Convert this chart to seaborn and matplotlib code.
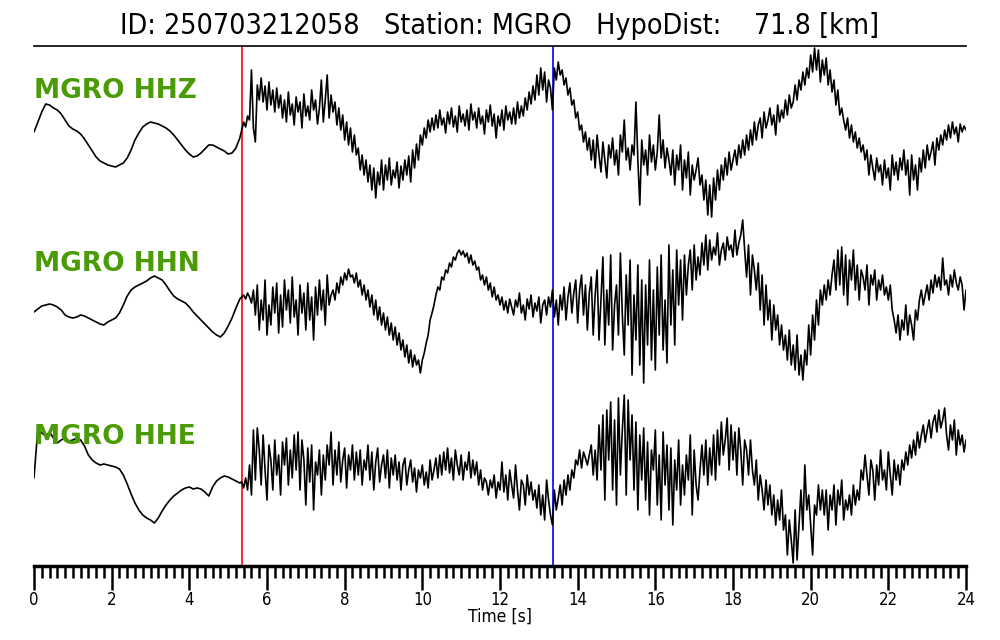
import numpy as np
import pandas as pd
import matplotlib
matplotlib.use("Agg")
import matplotlib.pyplot as plt
from matplotlib.ticker import MultipleLocator
import seaborn as sns

# ---------------- data ----------------
title_text = "ID: 250703212058   Station: MGRO   HypoDist:    71.8 [km]"
channels = ["MGRO HHZ", "MGRO HHN", "MGRO HHE"]
p_pick = 5.35    # red line [s]
s_pick = 13.37   # blue line [s]
pre_dt = 0.1     # sample step of the quiet part (t = 0 .. 5.3 s)
post_dt = 0.05   # sample step of the signal part (t = 5.35 .. 24 s)
post_t0 = 5.35

# amplitudes (arbitrary units, positive up)
hhz_pre = [-2, 8, 18, 26, 25, 22, 20, 16, 10, 4, 1, -1, -4, -9, -15, -21, -27, -31, -33, -35,
           -36, -37, -35, -33, -28, -20, -10, -3, 3, 6, 8, 7, 6, 4, 2, -1, -5, -10, -15, -20,
           -24, -27, -26, -23, -19, -15, -15, -17, -19, -21, -24, -23, -18, -8]
hhz_post = [
    0, 8, 3, 14, 10, 60, 2, -12, 45, 30, 52, 28, 44, 20, 48, 25, 40, 18, 42, 22,
    35, 12, 30, 8, 38, 15, 26, 5, 33, 18, 28, 2, 36, 14, 24, 10, 40, 20, 30, 6,
    22, 50, 8, 30, 55, 12, 35, 18, 28, 5, 22, 0, 15, -10, 8, -15, 2, -22, -5, -25,
    -18, -40, -25, -45, -30, -52, -35, -60, -38, -68, -42, -55, -30, -60, -35, -50, -28, -55, -40, -48,
    -32, -58, -36, -50, -30, -45, -26, -52, -20, -38, -14, -30, -5, -15, 2, -8, 10, -2, 12, 0,
    15, 2, 20, 5, 12, -3, 18, 6, 22, 3, 14, -2, 24, 8, 16, 4, 20, 0, 26, 10,
    18, 2, 22, 6, 14, -4, 20, 8, 25, 4, 16, -8, 14, 4, 20, 0, 24, 10, 18, 6,
    22, 6, 28, 12, 24, 14, 32, 20, 38, 26, 44, 30, 55, 35, 62, 40, 58, 28, 50, 42,
    20, 62, 50, 68, 55, 60, 45, 52, 35, 42, 25, 30, 12, 18, 0, 5, -12, -2, -20, -8,
    -30, -10, -38, -5, -25, -42, -12, -30, -48, -15, -28, -8, -35, -20, -45, -5, -22, 10, -30, -18,
    -40, -15, -25, 28, -30, -75, -10, -35, -20, -45, -5, -32, -15, -40, -22, 15, -28, -10, -38, -18,
    -30, -45, -20, -55, -25, -40, -15, -60, -30, -48, -22, -65, -35, -50, -40, -28, -55, -45, -70, -50,
    -85, -55, -87, -48, -70, -40, -60, -35, -50, -28, -45, -22, -40, -30, -20, -35, -15, -28, -10, -25,
    -5, -20, 0, -15, 8, -10, 5, 12, -8, 18, 2, 10, 22, 5, 15, -5, 25, 8, 20, 12,
    30, 15, 35, 22, 28, 45, 30, 50, 40, 58, 45, 62, 52, 75, 58, 82, 60, 80, 48, 70,
    55, 72, 45, 60, 38, 50, 25, 40, 15, 22, 10, 0, 12, -8, 5, -12, -2, -18, -8, -22,
    -15, -30, -20, -45, -25, -38, -50, -28, -42, -35, -55, -30, -48, -38, -60, -25, -45, -32, -50, -28,
    -40, -20, -45, -30, -65, -25, -50, -35, -60, -28, -42, -20, -38, -15, -30, -22, -12, -35, -8, -20,
    -5, -15, 0, -10, 5, -8, 8, -4, 3, -12, 6, -2, 4, 0]

hhn_pre = [-7, -4, -1, 0, 1, 0, -2, -5, -10, -12, -13, -12, -10, -11, -13, -15, -17, -19, -20, -17,
           -15, -13, -8, 0, 9, 15, 18, 20, 22, 24, 27, 29, 27, 25, 20, 14, 9, 6, 4, 2,
           -2, -7, -11, -15, -19, -23, -27, -30, -32, -28, -21, -13, -3, 6]
hhn_post = [
    8, 10, 6, 12, 8, 2, 15, -10, 20, -25, 5, -15, 25, -30, 0, -20, 18, -8, 22, -28,
    10, -22, 25, -5, 15, -18, 28, -12, 5, -30, 20, -8, 12, -25, 22, -15, 8, -35, 18, -10,
    25, -5, 15, -20, 30, 0, 10, 15, 5, 22, 12, 28, 20, 32, 25, 36, 28, 30, 22, 32,
    18, 25, 10, 20, 5, 15, -2, 10, -10, 5, -15, -2, -20, -8, -25, -12, -30, -18, -35, -22,
    -40, -28, -45, -35, -52, -40, -58, -45, -62, -50, -60, -55, -68, -55, -48, -38, -30, -15, -8, 0,
    10, 18, 15, 28, 25, 35, 32, 42, 38, 48, 45, 52, 55, 50, 54, 48, 52, 42, 50, 40,
    44, 35, 38, 25, 30, 20, 28, 15, 22, 8, 18, 5, 10, 0, 8, -5, 4, -8, 6, -2,
    -10, 5, -2, 12, -8, 0, -15, 6, -4, 10, -12, 2, -6, 8, -18, 0, 5, -10, 8, -2,
    15, -12, 5, -20, 10, -5, 18, -15, 8, 22, -8, 12, 25, -18, 15, 30, -10, 20, -25, 12,
    28, -30, 10, 35, -35, 5, 48, -40, 15, -20, 50, -45, 0, 20, -30, 52, -10, -50, 30, -20,
    45, -70, 10, -35, 40, -60, 25, -78, 20, -40, 45, -55, 15, -65, 38, -30, 50, -45, 5, -58,
    60, -20, 35, -40, 55, 0, 45, -15, 50, 10, 40, 55, 15, 60, 25, 48, 30, 62, 40, 70,
    35, 65, 45, 58, 50, 72, 40, 55, 62, 45, 68, 55, 60, 48, 75, 50, 62, 70, 85, 55,
    28, 60, 10, 50, 35, 15, 42, -5, 30, -20, 20, -15, 5, -35, 0, -25, -10, -40, -20, -45,
    -30, -55, -25, -60, -40, -65, -30, -70, -50, -75, -45, -60, -20, -50, -10, -35, 5, -20, 15, 0,
    20, 5, 25, 10, 30, 45, 15, 55, 20, 58, 10, 50, 0, 45, 25, 55, 15, 40, 5, 35,
    28, 15, 40, 0, 30, 20, 35, 5, 25, 15, 30, 10, 18, 5, 20, -5, -15, -28, -10, -35,
    -15, -25, 0, -30, -10, -20, -35, -5, -15, 5, 15, 0, 10, 20, 5, 25, 12, 30, 18, 28,
    15, 47, 20, 25, 10, 30, 18, 35, 22, 15, 28, 20, -5, 15]

hhe_pre = [-8, 42, 37, 34, 38, 32, 27, 30, 32, 29, 30, 32, 30, 24, 15, 10, 7, 5, 6, 5,
           4, 3, 1, -5, -14, -24, -33, -40, -45, -48, -50, -53, -48, -41, -35, -30, -26, -23, -20, -18,
           -17, -19, -18, -19, -22, -26, -17, -11, -8, -6, -7, -9, -11, -13]
hhe_post = [
    -12, -18, -8, -20, 5, -25, 40, -10, 42, 20, -15, 35, 0, -30, 25, 10, -20, 30, -5, 15,
    -25, 28, 5, 32, -15, 20, -8, 35, 0, 38, -20, 30, 10, -35, 22, -12, 25, -40, 8, -5,
    20, -25, 15, -10, 25, 5, 38, -15, 20, -5, 28, -12, 10, 22, -18, 15, 0, 25, -10, 18,
    -5, 20, -15, 10, 0, 25, -10, 18, -20, 8, 22, -12, 5, 15, -8, 20, -18, 12, -5, 15,
    -10, 8, -20, 5, 12, -15, 0, 10, -12, 2, -22, 0, -8, 5, -15, -2, -18, 10, -10, 0,
    12, -8, 15, -5, 18, 0, 22, -3, 12, -10, 20, 5, -5, 15, -10, 8, 0, 18, -8, 10,
    -5, 8, -15, 0, -20, -8, -12, -25, -10, -18, -5, -28, -12, -20, 8, -22, -5, -30, 0, -15,
    -28, 5, -20, -40, -10, -15, -35, -5, -25, -12, -30, -20, -38, -15, -45, -25, -50, -10, -30, -45,
    -55, -20, -40, -28, -15, -35, -10, -25, -5, -20, 0, -8, 10, 5, 20, 2, 18, 12, 5, 15,
    25, -5, 20, -10, 45, 0, 55, -30, 60, 10, 68, -20, 50, -35, 72, -5, 40, 75, -25, 70,
    10, 55, -20, 48, -40, 35, -10, 42, -30, 28, -45, 20, 0, 40, -35, 15, -50, 38, -15, 25,
    -40, 22, -55, 10, -20, 30, -35, 5, -25, 15, -10, 35, -45, 20, -15, -30, 0, 25, -5, 30,
    -15, 22, -5, 35, -10, 40, 5, 48, 15, 30, 52, 0, 45, 10, 38, -5, 42, 20, -15, 30,
    20, -5, 30, 0, -15, 10, -30, -5, -20, -40, -10, -35, -15, -45, -25, -55, -30, -50, -20, -60,
    -45, -85, -50, -70, -93, -40, -90, -55, -20, -60, 5, -40, -25, -55, -85, -35, -45, -15, -40, -20,
    -45, -20, -60, -25, -40, -15, -55, -20, -35, -10, -50, -30, -40, -25, -45, -15, -35, -20, -30, 0,
    -10, 15, -5, -25, 10, 0, -30, 5, -15, 20, -10, 0, -20, 18, -5, -25, 10, -10, 5, -15,
    10, 0, 18, 5, 25, 12, 30, 15, 38, 22, 35, 45, 28, 40, 50, 32, 48, 55, 38, 60,
    42, 50, 62, 35, 20, 45, 30, 50, 15, 40, 25, 35, 18, 30]

# ---------------- build a long table ----------------
trace_offsets = [436, 261, 96]   # vertical stacking of the three components
label_heights = [475, 302, 129]
pre_list = [hhz_pre, hhn_pre, hhe_pre]
post_list = [hhz_post, hhn_post, hhe_post]

frames = []
for ch, off, pre, post in zip(channels, trace_offsets, pre_list, post_list):
    t_pre = np.arange(len(pre)) * pre_dt
    t_post = post_t0 + np.arange(len(post)) * post_dt
    t = np.concatenate([t_pre, t_post])
    a = np.concatenate([np.asarray(pre, float), np.asarray(post, float)]) + off
    frames.append(pd.DataFrame({"time": t, "amp": a, "channel": ch}))
df = pd.concat(frames, ignore_index=True)

# ---------------- plot ----------------
sns.set_theme(style="white")
plt.rcParams["font.family"] = ["DejaVu Sans"]
plt.rcParams["font.stretch"] = "condensed"
plt.rcParams["text.color"] = "black"
plt.rcParams["xtick.color"] = "black"
plt.rcParams["axes.labelcolor"] = "black"

fig = plt.figure(figsize=(10, 6.4), dpi=100)
ax = fig.add_axes([0.034, 74 / 640, 0.932, 520 / 640])

sns.lineplot(data=df, x="time", y="amp", hue="channel", units="channel",
             estimator=None, sort=False, legend=False,
             palette=["black"] * 3, linewidth=1.2, ax=ax)

ax.axvline(p_pick, color="red", linewidth=1.2, zorder=0)
ax.axvline(s_pick, color="blue", linewidth=1.2, zorder=0)

for ch, yl in zip(channels, label_heights):
    ax.text(0, yl, ch, color="#4b9b06", fontsize=19, fontweight="bold",
            fontstretch="normal", ha="left", va="center", zorder=5)

ax.set_xlim(0, 24)
ax.set_ylim(0, 520)
ax.set_yticks([])
ax.set_ylabel("")
ax.xaxis.set_major_locator(MultipleLocator(2))
ax.xaxis.set_minor_locator(MultipleLocator(0.2))
ax.tick_params(axis="x", which="major", direction="out", length=17, width=1.8,
               color="black", labelcolor="black", labelsize=12, pad=1, bottom=True)
ax.tick_params(axis="x", which="minor", direction="out", length=8.5, width=1.8,
               color="black", bottom=True)
ax.set_xlabel("Time [s]", fontsize=12.5, labelpad=-1, color="black")

for side in ["left", "right"]:
    ax.spines[side].set_visible(False)
ax.spines["top"].set_visible(True)
ax.spines["top"].set_linewidth(1.2)
ax.spines["top"].set_color("black")
ax.spines["bottom"].set_linewidth(2.5)
ax.spines["bottom"].set_color("black")

fig.text(0.5, 1 - 26 / 640, title_text, ha="center", va="center",
         fontsize=20.5, color="black", fontstretch="condensed")

fig.savefig("out.png", dpi=100)
